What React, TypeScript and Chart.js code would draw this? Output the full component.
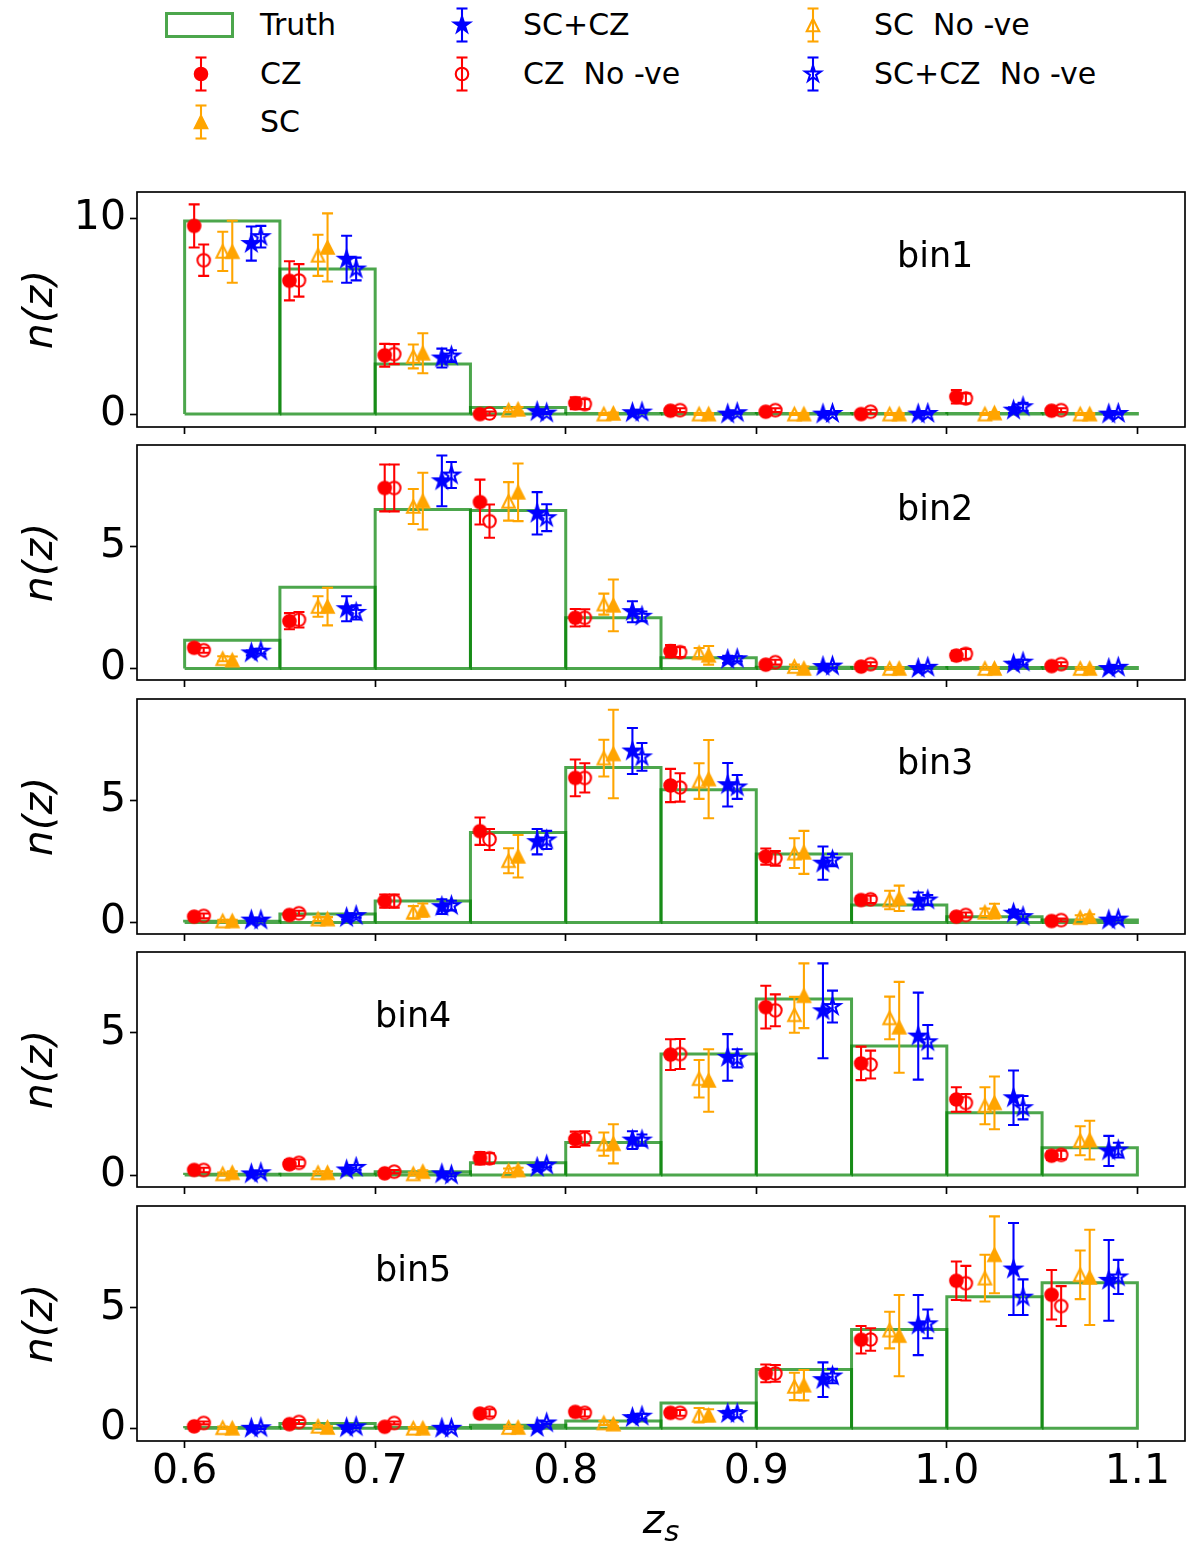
import React, { useEffect, useRef } from 'react';
import { Chart, registerables } from 'chart.js';

Chart.register(...registerables);

// ---------------- data ----------------
const binEdges = [0.6, 0.65, 0.7, 0.75, 0.8, 0.85, 0.9, 0.95, 1.0, 1.05, 1.1];
const xTickValues = [0.6, 0.7, 0.8, 0.9, 1.0, 1.1];
const yTicksBin1 = [0, 10];
const yTicksOther = [0, 5];
const seriesNames = ['CZ', 'SC', 'SC+CZ', 'CZ  No -ve', 'SC  No -ve', 'SC+CZ  No -ve'];
const panelNames = ['bin1', 'bin2', 'bin3', 'bin4', 'bin5'];

// bin1
const truthBin1 = [9.85, 7.4, 2.55, 0.34, 0.03, 0.03, 0.03, 0.03, 0.03, 0.03];
const czBin1 = [9.6, 6.8, 3.0, 0.0, 0.55, 0.17, 0.12, 0.0, 0.88, 0.17];
const czErrBin1 = [1.1, 1.0, 0.58, 0.1, 0.3, 0.12, 0.1, 0.1, 0.34, 0.12];
const scBin1 = [8.28, 8.5, 3.1, 0.24, 0.03, 0.0, 0.0, 0.0, 0.05, 0.0];
const scErrBin1 = [1.58, 1.74, 1.02, 0.12, 0.05, 0.05, 0.05, 0.05, 0.05, 0.05];
const scczBin1 = [8.7, 7.9, 2.86, 0.12, 0.07, 0.0, 0.0, 0.0, 0.2, 0.0];
const scczErrBin1 = [0.87, 1.2, 0.48, 0.1, 0.05, 0.05, 0.05, 0.05, 0.15, 0.05];
const czNvBin1 = [7.85, 6.82, 3.06, 0.03, 0.51, 0.2, 0.2, 0.12, 0.8, 0.2];
const czNvErrBin1 = [0.8, 0.83, 0.51, 0.1, 0.25, 0.1, 0.1, 0.1, 0.25, 0.1];
const scNvBin1 = [8.3, 8.1, 2.94, 0.2, 0.0, 0.0, 0.0, 0.0, 0.0, 0.0];
const scNvErrBin1 = [1.0, 1.05, 0.61, 0.1, 0.05, 0.05, 0.05, 0.05, 0.05, 0.05];
const scczNvBin1 = [9.05, 7.4, 2.96, 0.05, 0.1, 0.07, 0.03, 0.03, 0.37, 0.03];
const scczNvErrBin1 = [0.55, 0.58, 0.3, 0.05, 0.05, 0.05, 0.05, 0.05, 0.2, 0.05];

// bin2
const truthBin2 = [1.16, 3.33, 6.52, 6.48, 2.08, 0.44, 0.05, 0.04, 0.04, 0.04];
const czBin2 = [0.85, 1.94, 7.4, 6.82, 2.08, 0.71, 0.16, 0.08, 0.53, 0.1];
const czErrBin2 = [0.15, 0.33, 0.96, 0.92, 0.36, 0.25, 0.1, 0.08, 0.2, 0.08];
const scBin2 = [0.34, 2.54, 6.86, 7.22, 2.59, 0.54, 0.0, 0.0, 0.0, 0.0];
const scErrBin2 = [0.15, 0.77, 1.16, 1.18, 1.06, 0.38, 0.08, 0.05, 0.05, 0.05];
const scczBin2 = [0.64, 2.45, 7.69, 6.36, 2.33, 0.37, 0.08, 0.0, 0.18, 0.0];
const scczErrBin2 = [0.1, 0.51, 1.04, 0.87, 0.43, 0.15, 0.08, 0.05, 0.1, 0.05];
const czNvBin2 = [0.75, 2.0, 7.4, 6.04, 2.08, 0.67, 0.26, 0.18, 0.6, 0.18];
const czNvErrBin2 = [0.1, 0.32, 0.96, 0.68, 0.35, 0.2, 0.1, 0.08, 0.2, 0.08];
const scNvBin2 = [0.4, 2.54, 6.64, 6.85, 2.64, 0.64, 0.08, 0.0, 0.0, 0.0];
const scNvErrBin2 = [0.1, 0.42, 0.72, 0.79, 0.43, 0.2, 0.08, 0.05, 0.05, 0.05];
const scczNvBin2 = [0.71, 2.3, 7.93, 6.18, 2.14, 0.4, 0.1, 0.05, 0.26, 0.05];
const scczNvErrBin2 = [0.1, 0.29, 0.53, 0.55, 0.2, 0.1, 0.08, 0.05, 0.1, 0.05];

// bin3
const truthBin3 = [0.05, 0.35, 0.88, 3.68, 6.35, 5.43, 2.8, 0.72, 0.24, 0.1];
const czBin3 = [0.24, 0.31, 0.88, 3.74, 5.92, 5.61, 2.7, 0.92, 0.24, 0.06];
const czErrBin3 = [0.1, 0.1, 0.27, 0.56, 0.75, 0.68, 0.33, 0.15, 0.1, 0.06];
const scBin3 = [0.06, 0.14, 0.51, 2.71, 6.9, 5.87, 2.87, 0.99, 0.47, 0.24];
const scErrBin3 = [0.05, 0.08, 0.27, 0.87, 1.81, 1.6, 0.88, 0.52, 0.3, 0.1];
const scczBin3 = [0.1, 0.2, 0.65, 3.31, 7.02, 5.64, 2.43, 0.88, 0.38, 0.1];
const scczErrBin3 = [0.05, 0.08, 0.3, 0.52, 0.94, 0.89, 0.68, 0.35, 0.15, 0.06];
const czNvBin3 = [0.27, 0.38, 0.88, 3.4, 5.92, 5.53, 2.63, 0.95, 0.31, 0.1];
const czNvErrBin3 = [0.1, 0.1, 0.27, 0.43, 0.6, 0.58, 0.3, 0.15, 0.1, 0.06];
const scNvBin3 = [0.06, 0.14, 0.42, 2.53, 6.73, 5.79, 2.84, 0.92, 0.42, 0.2];
const scNvErrBin3 = [0.05, 0.08, 0.25, 0.51, 0.75, 0.73, 0.61, 0.38, 0.15, 0.1];
const scczNvBin3 = [0.1, 0.28, 0.69, 3.38, 6.78, 5.55, 2.56, 0.92, 0.24, 0.14];
const scczNvErrBin3 = [0.05, 0.08, 0.2, 0.37, 0.57, 0.49, 0.25, 0.2, 0.1, 0.06];

// bin4
const truthBin4 = [0.03, 0.03, 0.12, 0.43, 1.15, 4.26, 6.2, 4.54, 2.19, 0.96];
const czBin4 = [0.18, 0.38, 0.06, 0.59, 1.26, 4.24, 5.91, 3.93, 2.66, 0.68];
const czErrBin4 = [0.08, 0.15, 0.06, 0.22, 0.27, 0.54, 0.75, 0.59, 0.43, 0.15];
const scBin4 = [0.08, 0.08, 0.12, 0.18, 1.1, 3.33, 6.31, 5.2, 2.54, 1.23];
const scErrBin4 = [0.05, 0.05, 0.05, 0.08, 0.69, 1.1, 1.14, 1.6, 0.93, 0.68];
const scczBin4 = [0.04, 0.18, 0.04, 0.27, 1.23, 4.14, 5.78, 4.89, 2.72, 0.85];
const scczErrBin4 = [0.05, 0.05, 0.05, 0.08, 0.31, 0.82, 1.67, 1.53, 0.96, 0.53];
const czNvBin4 = [0.18, 0.43, 0.12, 0.59, 1.29, 4.26, 5.8, 3.89, 2.54, 0.71];
const czNvErrBin4 = [0.08, 0.12, 0.06, 0.18, 0.25, 0.53, 0.56, 0.49, 0.31, 0.15];
const scNvBin4 = [0.04, 0.08, 0.04, 0.15, 1.09, 3.39, 5.64, 5.53, 2.44, 1.21];
const scNvErrBin4 = [0.05, 0.05, 0.05, 0.08, 0.41, 0.66, 0.63, 0.75, 0.65, 0.51];
const scczNvBin4 = [0.08, 0.27, 0.0, 0.35, 1.23, 4.11, 5.93, 4.69, 2.37, 0.88];
const scczNvErrBin4 = [0.05, 0.08, 0.05, 0.08, 0.2, 0.32, 0.56, 0.59, 0.41, 0.26];

// bin5
const truthBin5 = [0.03, 0.2, 0.03, 0.12, 0.3, 1.05, 2.44, 4.11, 5.47, 6.05];
const czBin5 = [0.08, 0.17, 0.06, 0.61, 0.68, 0.64, 2.28, 3.68, 6.13, 5.55];
const czErrBin5 = [0.06, 0.08, 0.06, 0.15, 0.15, 0.15, 0.37, 0.57, 0.8, 1.03];
const scBin5 = [0.0, 0.03, 0.0, 0.03, 0.17, 0.54, 1.79, 3.85, 7.21, 6.27];
const scErrBin5 = [0.05, 0.05, 0.05, 0.05, 0.08, 0.25, 0.63, 1.69, 1.6, 1.98];
const scczBin5 = [0.0, 0.02, 0.0, 0.03, 0.44, 0.61, 2.02, 4.29, 6.62, 6.15];
const scczErrBin5 = [0.05, 0.05, 0.05, 0.05, 0.1, 0.12, 0.72, 1.25, 1.91, 1.68];
const czNvBin5 = [0.22, 0.26, 0.22, 0.64, 0.64, 0.64, 2.28, 3.69, 6.03, 5.08];
const czNvErrBin5 = [0.06, 0.08, 0.06, 0.15, 0.15, 0.12, 0.35, 0.47, 0.72, 0.83];
const scNvBin5 = [0.02, 0.08, 0.0, 0.03, 0.22, 0.54, 1.74, 4.08, 6.24, 6.38];
const scNvErrBin5 = [0.05, 0.05, 0.05, 0.05, 0.08, 0.3, 0.57, 0.76, 0.97, 1.01];
const scczNvBin5 = [0.02, 0.06, 0.0, 0.22, 0.5, 0.61, 2.17, 4.34, 5.45, 6.29];
const scczNvErrBin5 = [0.05, 0.05, 0.05, 0.05, 0.1, 0.15, 0.3, 0.6, 0.74, 0.71];

const panelData = [
  {
    truth: truthBin1,
    values: [czBin1, scBin1, scczBin1, czNvBin1, scNvBin1, scczNvBin1],
    errors: [czErrBin1, scErrBin1, scczErrBin1, czNvErrBin1, scNvErrBin1, scczNvErrBin1],
    yRange: [-0.66, 11.33],
    yTicks: yTicksBin1,
  },
  {
    truth: truthBin2,
    values: [czBin2, scBin2, scczBin2, czNvBin2, scNvBin2, scczNvBin2],
    errors: [czErrBin2, scErrBin2, scczErrBin2, czNvErrBin2, scNvErrBin2, scczNvErrBin2],
    yRange: [-0.47, 9.16],
    yTicks: yTicksOther,
  },
  {
    truth: truthBin3,
    values: [czBin3, scBin3, scczBin3, czNvBin3, scNvBin3, scczNvBin3],
    errors: [czErrBin3, scErrBin3, scczErrBin3, czNvErrBin3, scNvErrBin3, scczNvErrBin3],
    yRange: [-0.47, 9.15],
    yTicks: yTicksOther,
  },
  {
    truth: truthBin4,
    values: [czBin4, scBin4, scczBin4, czNvBin4, scNvBin4, scczNvBin4],
    errors: [czErrBin4, scErrBin4, scczErrBin4, czNvErrBin4, scNvErrBin4, scczNvErrBin4],
    yRange: [-0.42, 7.85],
    yTicks: yTicksOther,
  },
  {
    truth: truthBin5,
    values: [czBin5, scBin5, scczBin5, czNvBin5, scNvBin5, scczNvBin5],
    errors: [czErrBin5, scErrBin5, scczErrBin5, czNvErrBin5, scNvErrBin5, scczNvErrBin5],
    yRange: [-0.53, 9.24],
    yTicks: yTicksOther,
  },
];

// ---------------- styles & layout ----------------
const seriesStyle = [
  { color: '#ff0000', shape: 'circle', filled: true, dx: 0.005 },
  { color: '#ffa500', shape: 'triangle', filled: true, dx: 0.025 },
  { color: '#0000ff', shape: 'star', filled: true, dx: 0.035 },
  { color: '#ff0000', shape: 'circle', filled: false, dx: 0.01 },
  { color: '#ffa500', shape: 'triangle', filled: false, dx: 0.02 },
  { color: '#0000ff', shape: 'star', filled: false, dx: 0.04 },
];
const markerSize: Record<string, number> = { circle: 12.5, triangle: 12.5, star: 16.7 };
const MARKER_EDGE = 2.08;
const ERR_LW = 2.08;
const CAP_HALF = 5.5;
const TRUTH_COLOR = 'rgba(0,128,0,0.7)';
const TRUTH_LW = 3;
const FONT = '"DejaVu Sans", sans-serif';

const FRAME_TOPS = [192, 445, 699, 952, 1206];
const FRAME_H = 235;
const PLOT_LEFT = 137;
const PLOT_RIGHT = 1185;
const PAD_TOP = 10;
const LABEL_X = [897, 897, 897, 375, 375];
const LABEL_DY = 75;

function markerPathD(shape: string, size: number): string {
  const R = size / 2;
  if (shape === 'circle') {
    return `M ${-R} 0 A ${R} ${R} 0 1 0 ${R} 0 A ${R} ${R} 0 1 0 ${-R} 0 Z`;
  }
  if (shape === 'triangle') {
    return `M 0 ${-R} L ${-R} ${R} L ${R} ${R} Z`;
  }
  let d = '';
  for (let k = 0; k < 10; k++) {
    const r = k % 2 === 0 ? R : R * 0.381966;
    const a = -Math.PI / 2 + (k * Math.PI) / 5;
    const px = r * Math.cos(a);
    const py = r * Math.sin(a);
    d += `${k === 0 ? 'M' : 'L'} ${px.toFixed(3)} ${py.toFixed(3)} `;
  }
  return d + 'Z';
}

function makeMarker(shape: string, color: string, filled: boolean): HTMLCanvasElement {
  const size = markerSize[shape];
  const dim = Math.ceil(size + MARKER_EDGE + 6);
  const c = document.createElement('canvas');
  c.width = dim;
  c.height = dim;
  const g = c.getContext('2d')!;
  g.translate(dim / 2, dim / 2);
  const p = new Path2D(markerPathD(shape, size));
  if (filled) {
    g.fillStyle = color;
    g.fill(p);
  }
  g.lineWidth = MARKER_EDGE;
  g.strokeStyle = color;
  g.lineJoin = 'miter';
  g.stroke(p);
  return c;
}

function Panel({ index }: { index: number }) {
  const ref = useRef<HTMLCanvasElement>(null);
  const isLast = index === panelData.length - 1;
  const xAxisH = isLast ? 114 : 14;
  const canvasTop = FRAME_TOPS[index] - PAD_TOP;
  const canvasH = PAD_TOP + FRAME_H + xAxisH;

  useEffect(() => {
    const p = panelData[index];
    const datasets: any[] = [];
    // truth histogram: one outlined bar per bin
    p.truth.forEach((h, j) => {
      const e0 = binEdges[j];
      const e1 = binEdges[j + 1];
      datasets.push({
        label: 'Truth',
        data: [
          { x: e0, y: 0 },
          { x: e0, y: h },
          { x: e1, y: h },
          { x: e1, y: 0 },
          { x: e0, y: 0 },
        ],
        showLine: true,
        borderColor: TRUTH_COLOR,
        borderWidth: TRUTH_LW,
        borderJoinStyle: 'miter',
        borderCapStyle: 'butt',
        pointRadius: 0,
        fill: false,
        tension: 0,
        order: 100,
        clip: false,
      });
    });
    seriesStyle.forEach((s, k) => {
      const vals = p.values[k];
      datasets.push({
        label: seriesNames[k],
        data: vals.map((v, j) => ({ x: binEdges[j] + s.dx, y: v })),
        errors: p.errors[k],
        errColor: s.color,
        showLine: false,
        pointStyle: makeMarker(s.shape, s.color, s.filled),
        pointRadius: 7,
        order: 50 - k,
        clip: false,
      });
    });

    const errorBarPlugin = {
      id: 'errbars',
      beforeDatasetDraw(chart: any, args: any) {
        const ds = chart.data.datasets[args.index];
        if (!ds.errors) return;
        const ctx = chart.ctx;
        const xs = chart.scales.x;
        const ys = chart.scales.y;
        ctx.save();
        ctx.strokeStyle = ds.errColor;
        ctx.lineWidth = ERR_LW;
        ctx.lineCap = 'butt';
        ds.data.forEach((pt: any, j: number) => {
          const e = ds.errors[j];
          const px = xs.getPixelForValue(pt.x);
          const yTop = ys.getPixelForValue(pt.y + e);
          const yBot = ys.getPixelForValue(pt.y - e);
          ctx.beginPath();
          ctx.moveTo(px, yTop);
          ctx.lineTo(px, yBot);
          ctx.moveTo(px - CAP_HALF, yTop);
          ctx.lineTo(px + CAP_HALF, yTop);
          ctx.moveTo(px - CAP_HALF, yBot);
          ctx.lineTo(px + CAP_HALF, yBot);
          ctx.stroke();
        });
        ctx.restore();
      },
    };

    const decorPlugin = {
      id: 'decor',
      afterDraw(chart: any) {
        const ctx = chart.ctx;
        const a = chart.chartArea;
        ctx.save();
        ctx.strokeStyle = '#000';
        ctx.lineWidth = 1.67;
        ctx.strokeRect(a.left, a.top, a.right - a.left, a.bottom - a.top);
        ctx.fillStyle = '#000';
        ctx.font = `35px ${FONT}`;
        ctx.textBaseline = 'alphabetic';
        ctx.textAlign = 'left';
        ctx.fillText(panelNames[index], LABEL_X[index], a.top + LABEL_DY);
        if (isLast) {
          const cx = (a.left + a.right) / 2;
          ctx.font = `italic 41px ${FONT}`;
          const zw = ctx.measureText('z').width;
          ctx.font = `italic 29px ${FONT}`;
          const sw = ctx.measureText('s').width;
          const x0 = cx - (zw + sw) / 2;
          ctx.font = `italic 41px ${FONT}`;
          ctx.fillText('z', x0, a.bottom + 92);
          ctx.font = `italic 29px ${FONT}`;
          ctx.fillText('s', x0 + zw, a.bottom + 100);
        }
        ctx.restore();
      },
    };

    const chart = new Chart(ref.current as HTMLCanvasElement, {
      type: 'scatter',
      data: { datasets },
      options: {
        animation: false,
        responsive: false,
        events: [],
        layout: {
          autoPadding: false,
          padding: { top: PAD_TOP, left: 0, right: 1200 - PLOT_RIGHT, bottom: 0 },
        },
        plugins: { legend: { display: false }, tooltip: { enabled: false } },
        scales: {
          x: {
            type: 'linear',
            min: 0.575,
            max: 1.125,
            afterBuildTicks: (ax: any) => {
              ax.ticks = xTickValues.map((v) => ({ value: v }));
            },
            afterFit: (ax: any) => {
              ax.height = xAxisH;
              ax.paddingLeft = 0;
              ax.paddingRight = 0;
              ax.paddingTop = 0;
              ax.paddingBottom = 0;
            },
            border: { display: false },
            grid: {
              display: true,
              drawOnChartArea: false,
              drawTicks: true,
              tickLength: 7,
              tickWidth: 1.67,
              tickColor: '#000',
            },
            ticks: {
              display: isLast,
              autoSkip: false,
              maxRotation: 0,
              padding: 0,
              color: '#000',
              font: { family: FONT, size: 41 },
              callback: (v: any) => Number(v).toFixed(1),
            },
          },
          y: {
            type: 'linear',
            min: p.yRange[0],
            max: p.yRange[1],
            afterBuildTicks: (ax: any) => {
              ax.ticks = p.yTicks.map((v) => ({ value: v }));
            },
            afterFit: (ax: any) => {
              ax.width = PLOT_LEFT;
              ax.paddingLeft = 0;
              ax.paddingRight = 0;
              ax.paddingTop = 0;
              ax.paddingBottom = 0;
            },
            border: { display: false },
            grid: {
              display: true,
              drawOnChartArea: false,
              drawTicks: true,
              tickLength: 7,
              tickWidth: 1.67,
              tickColor: '#000',
            },
            ticks: {
              padding: 4,
              color: '#000',
              font: { family: FONT, size: 41 },
              callback: (v: any) => String(v),
            },
            title: {
              display: true,
              text: 'n(z)',
              color: '#000',
              font: { family: FONT, size: 41, style: 'italic' },
              padding: { top: 17, bottom: 0 },
            },
          },
        },
      } as any,
      plugins: [errorBarPlugin, decorPlugin],
    } as any);
    return () => chart.destroy();
  }, [index]);

  return (
    <canvas
      ref={ref}
      width={1200}
      height={canvasH}
      style={{ position: 'absolute', left: 0, top: canvasTop, width: 1200, height: canvasH }}
    />
  );
}

const legendLayout = [
  { label: 'Truth', series: -1, x: 200, y: 25, textX: 260 },
  { label: seriesNames[0], series: 0, x: 201, y: 73.5, textX: 260 },
  { label: seriesNames[1], series: 1, x: 201, y: 122, textX: 260 },
  { label: seriesNames[2], series: 2, x: 462, y: 25, textX: 523 },
  { label: seriesNames[3], series: 3, x: 462, y: 73.5, textX: 523 },
  { label: seriesNames[4], series: 4, x: 813, y: 25, textX: 874 },
  { label: seriesNames[5], series: 5, x: 813, y: 73.5, textX: 874 },
];

function LegendIcon({ series }: { series: number }) {
  if (series < 0) {
    return (
      <svg width={80} height={40} style={{ position: 'absolute', left: -40, top: -20 }}>
        <rect x={6.5} y={8.5} width={66} height={23} fill="none" stroke={TRUTH_COLOR} strokeWidth={TRUTH_LW} />
      </svg>
    );
  }
  const s = seriesStyle[series];
  return (
    <svg width={40} height={40} style={{ position: 'absolute', left: -20, top: -20 }}>
      <g transform="translate(20,20)" stroke={s.color} strokeWidth={ERR_LW} fill="none">
        <line x1={0} y1={-16.5} x2={0} y2={16.5} />
        <line x1={-CAP_HALF} y1={-16.5} x2={CAP_HALF} y2={-16.5} />
        <line x1={-CAP_HALF} y1={16.5} x2={CAP_HALF} y2={16.5} />
        <path
          d={markerPathD(s.shape, markerSize[s.shape])}
          fill={s.filled ? s.color : 'none'}
          strokeWidth={MARKER_EDGE}
        />
      </g>
    </svg>
  );
}

function Legend() {
  return (
    <>
      {legendLayout.map((it) => (
        <React.Fragment key={it.label}>
          <div style={{ position: 'absolute', left: it.x, top: it.y, width: 0, height: 0 }}>
            <LegendIcon series={it.series} />
          </div>
          <div
            style={{
              position: 'absolute',
              left: it.textX,
              top: it.y - 20,
              height: 40,
              lineHeight: '40px',
              fontFamily: FONT,
              fontSize: 30,
              color: '#000',
              whiteSpace: 'pre',
            }}
          >
            {it.label}
          </div>
        </React.Fragment>
      ))}
    </>
  );
}

export default function App() {
  return (
    <div
      style={{
        position: 'absolute',
        left: 0,
        top: 0,
        width: 1200,
        height: 1555,
        background: '#fff',
        overflow: 'hidden',
      }}
    >
      <Legend />
      {panelData.map((_, i) => (
        <Panel key={i} index={i} />
      ))}
    </div>
  );
}
